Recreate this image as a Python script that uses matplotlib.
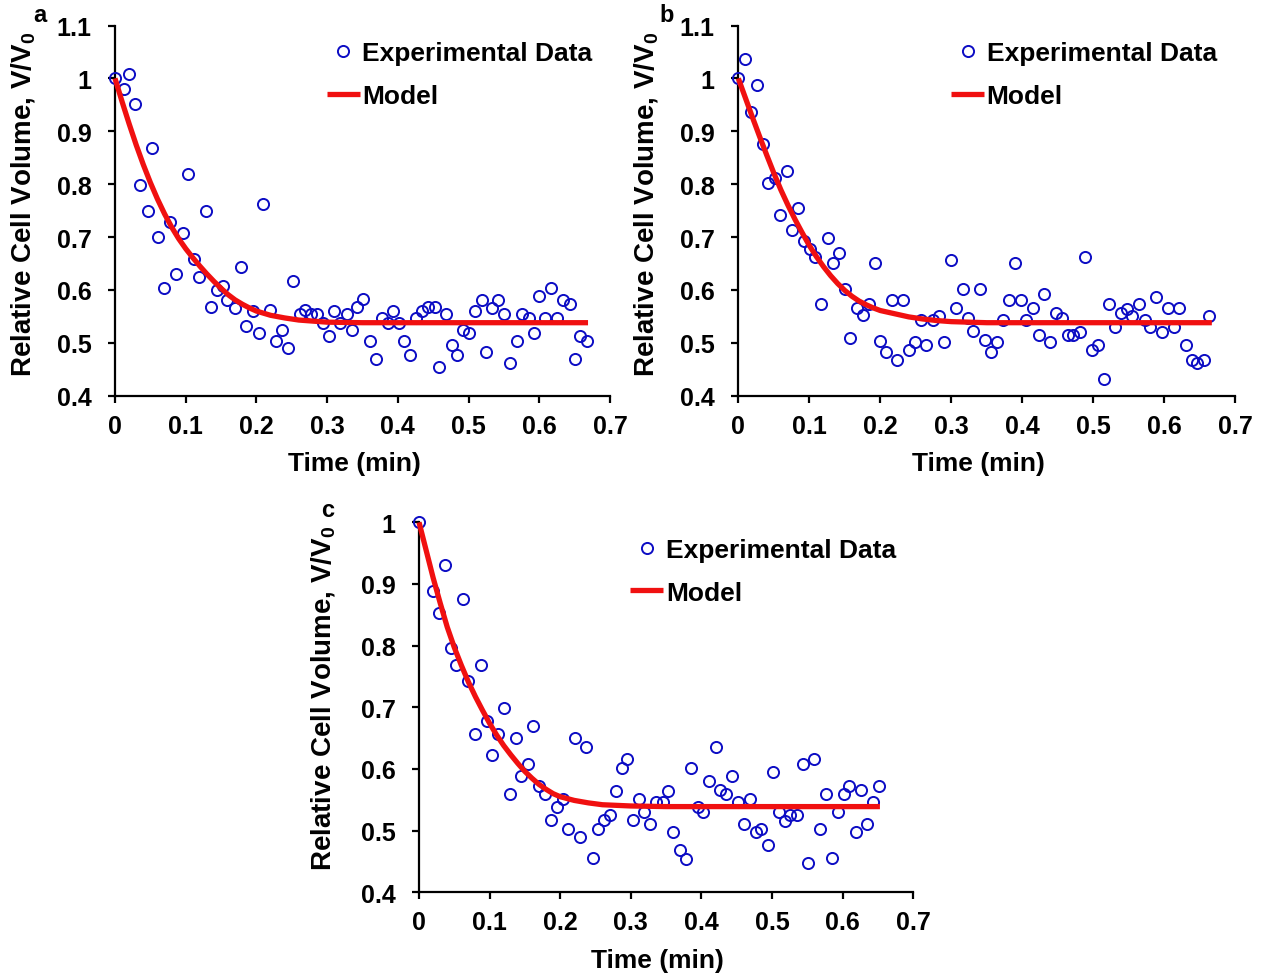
import matplotlib as mpl

mpl.use('agg')
import matplotlib.pyplot as plt
from matplotlib.ticker import FuncFormatter

plt.rcParams['font.family'] = ['Liberation Sans', 'DejaVu Sans']
plt.rcParams['font.weight'] = 'bold'
plt.rcParams['mathtext.fontset'] = 'custom'
plt.rcParams['mathtext.rm'] = 'Liberation Sans:bold'
plt.rcParams['mathtext.bf'] = 'Liberation Sans:bold'

# ---- panel a: experimental points (time in min, V/V0)
t_a = [0.000, 0.013, 0.020, 0.028, 0.036, 0.046, 0.053, 0.061, 0.070, 0.078,
       0.086, 0.096, 0.103, 0.112, 0.119, 0.128, 0.136, 0.144, 0.153, 0.159,
       0.170, 0.178, 0.185, 0.195, 0.203, 0.210, 0.219, 0.227, 0.236, 0.245,
       0.252, 0.261, 0.269, 0.277, 0.285, 0.294, 0.302, 0.310, 0.318, 0.328,
       0.335, 0.342, 0.351, 0.361, 0.369, 0.377, 0.386, 0.393, 0.401, 0.409,
       0.417, 0.426, 0.434, 0.442, 0.452, 0.458, 0.468, 0.476, 0.483, 0.492,
       0.501, 0.509, 0.519, 0.525, 0.533, 0.542, 0.550, 0.559, 0.568, 0.575,
       0.585, 0.592, 0.600, 0.608, 0.616, 0.625, 0.633, 0.643, 0.651, 0.658,
       0.667]
v_a = [1.000, 0.980, 1.009, 0.951, 0.798, 0.749, 0.868, 0.700, 0.603, 0.728,
       0.630, 0.707, 0.819, 0.658, 0.624, 0.749, 0.567, 0.600, 0.608, 0.581,
       0.565, 0.644, 0.532, 0.560, 0.518, 0.762, 0.562, 0.504, 0.524, 0.490,
       0.616, 0.554, 0.562, 0.554, 0.554, 0.537, 0.512, 0.560, 0.537, 0.554,
       0.524, 0.567, 0.583, 0.504, 0.469, 0.547, 0.537, 0.560, 0.537, 0.504,
       0.477, 0.547, 0.560, 0.567, 0.567, 0.454, 0.554, 0.496, 0.476, 0.524,
       0.518, 0.560, 0.581, 0.483, 0.566, 0.581, 0.554, 0.461, 0.504, 0.554,
       0.547, 0.518, 0.589, 0.547, 0.603, 0.547, 0.581, 0.573, 0.469, 0.512,
       0.504]
# panel a: model curve
mt_a = [0.00, 0.01, 0.02, 0.03, 0.04, 0.05, 0.06, 0.07, 0.08, 0.09, 0.10,
        0.11, 0.12, 0.13, 0.14, 0.15, 0.16, 0.17, 0.18, 0.19, 0.20, 0.22,
        0.24, 0.26, 0.28, 0.30, 0.35, 0.669]
mv_a = [1.000, 0.956, 0.914, 0.874, 0.837, 0.803, 0.772, 0.744, 0.719, 0.697, 0.678,
        0.661, 0.645, 0.630, 0.616, 0.603, 0.591, 0.581, 0.573, 0.566, 0.560, 0.552,
        0.547, 0.543, 0.541, 0.539, 0.538, 0.538]

# ---- panel b
t_b = [0.000, 0.0095, 0.018, 0.026, 0.0345, 0.0425, 0.051, 0.059, 0.068, 0.075,
       0.084, 0.0925, 0.101, 0.108, 0.117, 0.126, 0.133, 0.142, 0.150, 0.157,
       0.167, 0.175, 0.184, 0.193, 0.200, 0.208, 0.216, 0.224, 0.232, 0.241,
       0.249, 0.258, 0.265, 0.274, 0.283, 0.290, 0.300, 0.307, 0.316, 0.324,
       0.331, 0.340, 0.348, 0.356, 0.365, 0.373, 0.381, 0.390, 0.398, 0.405,
       0.415, 0.423, 0.431, 0.439, 0.447, 0.456, 0.464, 0.472, 0.481, 0.489,
       0.498, 0.506, 0.515, 0.522, 0.531, 0.539, 0.547, 0.555, 0.564, 0.573,
       0.580, 0.588, 0.597, 0.605, 0.613, 0.621, 0.630, 0.639, 0.646, 0.656,
       0.663]
v_b = [1.000, 1.036, 0.937, 0.987, 0.875, 0.803, 0.811, 0.741, 0.825, 0.714,
       0.754, 0.692, 0.678, 0.662, 0.573, 0.699, 0.650, 0.670, 0.601, 0.510,
       0.565, 0.552, 0.574, 0.650, 0.504, 0.482, 0.580, 0.468, 0.580, 0.486,
       0.501, 0.543, 0.495, 0.543, 0.551, 0.501, 0.656, 0.565, 0.601, 0.546,
       0.523, 0.601, 0.506, 0.482, 0.501, 0.543, 0.580, 0.650, 0.580, 0.543,
       0.565, 0.514, 0.592, 0.501, 0.557, 0.546, 0.514, 0.514, 0.521, 0.663,
       0.486, 0.495, 0.432, 0.573, 0.530, 0.557, 0.564, 0.551, 0.573, 0.543,
       0.530, 0.587, 0.521, 0.565, 0.530, 0.565, 0.495, 0.468, 0.462, 0.468,
       0.551]
mt_b = [0.00, 0.01, 0.02, 0.03, 0.04, 0.05, 0.06, 0.07, 0.08, 0.09, 0.10,
        0.11, 0.12, 0.13, 0.14, 0.15, 0.16, 0.17, 0.18, 0.19, 0.20, 0.22,
        0.24, 0.26, 0.28, 0.30, 0.35, 0.667]
mv_b = [1.000, 0.963, 0.926, 0.890, 0.855, 0.821, 0.789, 0.760, 0.733, 0.708, 0.684,
        0.663, 0.644, 0.627, 0.612, 0.599, 0.588, 0.579, 0.572, 0.566, 0.561, 0.555,
        0.549, 0.545, 0.542, 0.540, 0.538, 0.538]

# ---- panel c
t_c = [0.000, 0.020, 0.029, 0.037, 0.045, 0.053, 0.063, 0.070, 0.079, 0.088,
       0.097, 0.104, 0.112, 0.121, 0.129, 0.137, 0.145, 0.155, 0.162, 0.170,
       0.178, 0.187, 0.196, 0.204, 0.211, 0.221, 0.228, 0.236, 0.246, 0.253,
       0.262, 0.271, 0.279, 0.287, 0.294, 0.303, 0.311, 0.319, 0.327, 0.336,
       0.345, 0.353, 0.360, 0.370, 0.378, 0.385, 0.395, 0.403, 0.411, 0.421,
       0.426, 0.435, 0.444, 0.452, 0.461, 0.469, 0.477, 0.485, 0.494, 0.502,
       0.510, 0.518, 0.525, 0.535, 0.544, 0.551, 0.559, 0.568, 0.576, 0.585,
       0.594, 0.602, 0.609, 0.619, 0.626, 0.634, 0.643, 0.652]
v_c = [1.000, 0.889, 0.853, 0.930, 0.797, 0.769, 0.875, 0.742, 0.656, 0.769,
       0.678, 0.623, 0.656, 0.699, 0.559, 0.650, 0.588, 0.608, 0.670, 0.573,
       0.559, 0.518, 0.538, 0.552, 0.503, 0.650, 0.489, 0.636, 0.455, 0.503,
       0.518, 0.525, 0.565, 0.601, 0.616, 0.518, 0.552, 0.530, 0.511, 0.546,
       0.546, 0.565, 0.498, 0.469, 0.454, 0.601, 0.539, 0.530, 0.580, 0.636,
       0.566, 0.559, 0.588, 0.546, 0.511, 0.552, 0.498, 0.503, 0.476, 0.595,
       0.530, 0.516, 0.525, 0.525, 0.608, 0.448, 0.616, 0.503, 0.559, 0.455,
       0.530, 0.559, 0.573, 0.498, 0.566, 0.511, 0.546, 0.573]
mt_c = [0.00, 0.01, 0.02, 0.03, 0.04, 0.05, 0.06, 0.07, 0.08, 0.09, 0.10,
        0.11, 0.12, 0.13, 0.14, 0.15, 0.16, 0.17, 0.18, 0.19, 0.20, 0.22,
        0.24, 0.26, 0.30, 0.35, 0.653]
mv_c = [1.000, 0.955, 0.910, 0.869, 0.830, 0.797, 0.768, 0.741, 0.717, 0.695, 0.674,
        0.655, 0.638, 0.623, 0.609, 0.596, 0.585, 0.575, 0.567, 0.560, 0.555, 0.549,
        0.545, 0.542, 0.540, 0.539, 0.539]

x_ticks = [0, 0.1, 0.2, 0.3, 0.4, 0.5, 0.6, 0.7]
y_ticks_ab = [0.4, 0.5, 0.6, 0.7, 0.8, 0.9, 1.0, 1.1]
y_ticks_c = [0.4, 0.5, 0.6, 0.7, 0.8, 0.9, 1.0]

BLUE = '#0c0cc4'
RED = '#f01010'
fmt = FuncFormatter(lambda v, p: '%g' % round(v, 2))


def draw_panel(ax, t, v, mt, mv, yticks, ylab_x, ylab_y):
  pts, = ax.plot(t, v, 'o', ls='none', ms=8, mfc='none', mec=BLUE, mew=1.4,
                 clip_on=False, zorder=3, label='Experimental Data')
  line, = ax.plot(mt, mv, '-', color=RED, lw=3.8, solid_capstyle='butt',
                  clip_on=False, zorder=4, label='Model')
  ax.set_xlim(0, 0.7)
  ax.set_ylim(yticks[0], yticks[-1])
  ax.set_xticks(x_ticks)
  ax.set_yticks(yticks)
  ax.xaxis.set_major_formatter(fmt)
  ax.yaxis.set_major_formatter(fmt)
  for s in ('top', 'right'):
    ax.spines[s].set_visible(False)
  for s in ('left', 'bottom'):
    ax.spines[s].set_linewidth(1.6)
  ax.tick_params(axis='both', direction='out', length=5, width=1.6, labelsize=18)
  ax.tick_params(axis='y', pad=12)
  ax.tick_params(axis='x', pad=8)
  ax.set_xlabel('Time (min)', fontsize=19, fontweight='bold')
  ax.set_ylabel(r'Relative Cell Volume, V/V$_\mathbf{0}$', fontsize=20, fontweight='bold')
  ax.xaxis.set_label_coords(0.483, -0.15)
  ax.yaxis.set_label_coords(ylab_x, ylab_y)
  leg = ax.legend([pts, line], ['Experimental Data', 'Model'], loc='upper left',
                  bbox_to_anchor=(0.428, 0.957), frameon=False, fontsize=19,
                  handlelength=1.25, handletextpad=0.1, labelspacing=0.7,
                  borderpad=0, borderaxespad=0)
  for txt in leg.get_texts():
    txt.set_fontweight('bold')
  return ax


fig = plt.figure(figsize=(12.61, 9.78), dpi=100)
ax_a = fig.add_axes([0.0912, 0.5944, 0.3925, 0.3785])
ax_b = fig.add_axes([0.5855, 0.5944, 0.3941, 0.3785])
ax_c = fig.add_axes([0.3323, 0.0866, 0.3918, 0.3783])

draw_panel(ax_a, t_a, v_a, mt_a, mv_a, y_ticks_ab, -0.155, 0.52)
draw_panel(ax_b, t_b, v_b, mt_b, mv_b, y_ticks_ab, -0.155, 0.52)
draw_panel(ax_c, t_c, v_c, mt_c, mv_c, y_ticks_c, -0.163, 0.527)

fig.text(0.0317, 0.9846, 'a', fontsize=17, fontweight='bold', ha='center', va='center')
fig.text(0.529, 0.9846, 'b', fontsize=17, fontweight='bold', ha='center', va='center')
fig.text(0.260, 0.4785, 'c', fontsize=17, fontweight='bold', ha='center', va='center')

plt.savefig('out.png', dpi=100)
plt.close()
